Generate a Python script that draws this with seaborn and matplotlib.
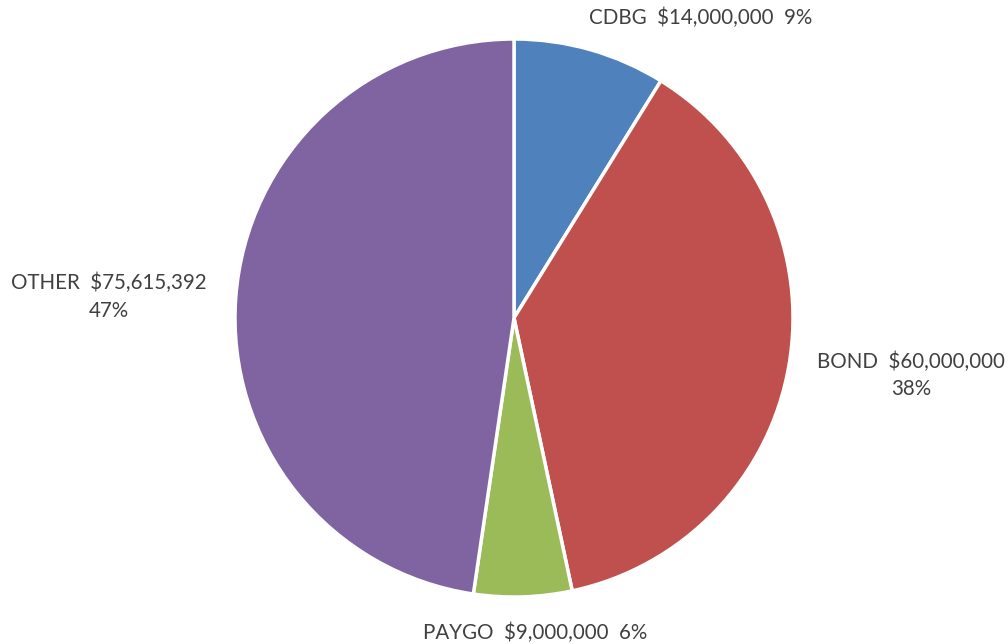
import numpy as np
import pandas as pd
import matplotlib
matplotlib.use("Agg")
import matplotlib.pyplot as plt
import seaborn as sns

# funding sources
sources = ["CDBG", "BOND", "PAYGO", "OTHER"]
amounts = [14000000, 60000000, 9000000, 75615392]
pct_labels = ["9%", "38%", "6%", "47%"]

sns.set_theme(style="white")
plt.rcParams['font.family'] = ['Lato', 'DejaVu Sans']

colors = ["#4F81BD", "#C0504D", "#9BBB59", "#8064A2"]

fig = plt.figure(figsize=(10.08, 6.44), dpi=100)
ax = fig.add_axes([0, 0, 1, 1])

wedges, texts = ax.pie(amounts, startangle=90, counterclock=False, colors=colors,
                       wedgeprops=dict(edgecolor="white", linewidth=2.5),
                       labels=sources)

# label text and where excel put them (data units, radius = 1)
label_text = [
    "%s  $%s  %s" % (sources[0], format(amounts[0], ","), pct_labels[0]),
    "%s  $%s\n%s" % (sources[1], format(amounts[1], ","), pct_labels[1]),
    "%s  $%s  %s" % (sources[2], format(amounts[2], ","), pct_labels[2]),
    "%s  $%s\n%s" % (sources[3], format(amounts[3], ","), pct_labels[3]),
]
label_pos = [(0.669, 1.075), (1.424, -0.205), (0.076, -1.13), (-1.453, 0.076)]
for t, txt, pos in zip(texts, label_text, label_pos):
    t.set_text(txt)
    t.set_position(pos)
    t.set_ha("center")
    t.set_va("center")
    t.set_fontsize(14.8)
    t.set_color("#404040")
    t.set_multialignment("center")
    t.set_linespacing(1.45)

ax.set_aspect("equal")
ax.set_xlim(-514 / 279, (1008 - 514) / 279)
ax.set_ylim(-(644 - 318) / 279, 318 / 279)
ax.axis("off")

fig.savefig("out.png", dpi=100, facecolor="white")
